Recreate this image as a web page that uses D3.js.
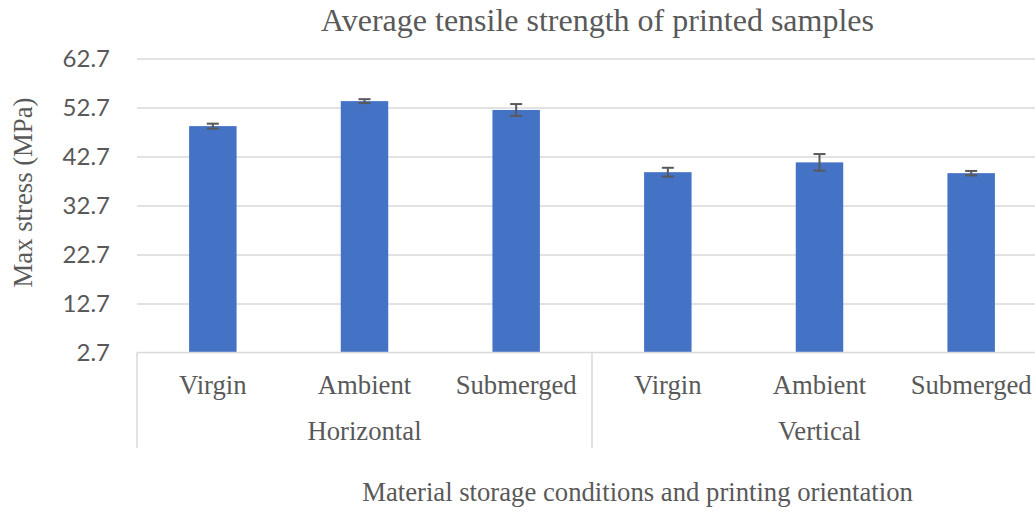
<!DOCTYPE html>
<html>
<head>
<meta charset="utf-8">
<script src="https://cdn.jsdelivr.net/npm/d3@7"></script>
<style>
  html, body { margin: 0; padding: 0; background: #ffffff; }
  svg { display: block; }
</style>
</head>
<body>
<svg id="chart" width="1035" height="512"></svg>
<script>
// Tensile test results: mean max stress and standard deviation per group
const orientations = ["Horizontal", "Vertical"];
const conditions = ["Virgin", "Ambient", "Submerged"];
const meanStress = [48.9, 54.0, 52.2, 39.5, 41.5, 39.3];
const stdStress = [0.5, 0.4, 1.2, 0.9, 1.7, 0.45];
const yTicks = [2.7, 12.7, 22.7, 32.7, 42.7, 52.7, 62.7];
const titleText = "Average tensile strength of printed samples";
const xTitleText = "Material storage conditions and printing orientation";
const yTitleText = "Max stress (MPa)";

// One row per bar: orientation x storage condition
const rows = [];
orientations.forEach((o, i) => {
  conditions.forEach((c, j) => {
    const k = i * conditions.length + j;
    rows.push({ key: o + "|" + c, orientation: o, condition: c,
                mean: meanStress[k], sd: stdStress[k] });
  });
});

const svg = d3.select("#chart");
const plot = { left: 137, right: 1047, top: 58.5, bottom: 352.5 };
const serif = "'Liberation Serif', 'Times New Roman', serif";
const sans = "Lato, 'Open Sans', sans-serif";
const gridColor = "#d9d9d9";
const textColor = "#595959";

const x = d3.scaleBand()
  .domain(rows.map(d => d.key))
  .range([plot.left, plot.right])
  .paddingInner(0.687)
  .paddingOuter(0.687 / 2);

const y = d3.scaleLinear()
  .domain([yTicks[0], yTicks[yTicks.length - 1]])
  .range([plot.bottom, plot.top]);

// Horizontal gridlines and value labels
const yAxis = d3.axisLeft(y)
  .tickValues(yTicks)
  .tickFormat(d3.format(".1f"))
  .tickSize(-(plot.right - plot.left))
  .tickPadding(27);

const gy = svg.append("g")
  .attr("transform", `translate(${plot.left},0)`)
  .call(yAxis);
gy.select(".domain").remove();
gy.selectAll(".tick line")
  .attr("stroke", gridColor)
  .attr("stroke-width", 1.3)
  .filter(d => d === yTicks[0]).remove();
gy.selectAll(".tick text")
  .attr("fill", textColor)
  .style("font-family", sans)
  .style("font-size", "24px");

// Bars
svg.append("g").selectAll("rect")
  .data(rows)
  .join("rect")
  .attr("x", d => x(d.key))
  .attr("width", x.bandwidth())
  .attr("y", d => y(d.mean))
  .attr("height", d => y(yTicks[0]) - y(d.mean))
  .attr("fill", "#4472c4");

// Error bars (mean ± one standard deviation)
const capHalf = 6;
const err = svg.append("g")
  .attr("stroke", "#595959")
  .attr("stroke-width", 2)
  .selectAll("g")
  .data(rows)
  .join("g")
  .attr("transform", d => `translate(${x(d.key) + x.bandwidth() / 2},0)`);
err.append("line")
  .attr("y1", d => y(d.mean - d.sd))
  .attr("y2", d => y(d.mean + d.sd));
err.append("line")
  .attr("x1", -capHalf).attr("x2", capHalf)
  .attr("y1", d => y(d.mean + d.sd)).attr("y2", d => y(d.mean + d.sd));
err.append("line")
  .attr("x1", -capHalf).attr("x2", capHalf)
  .attr("y1", d => y(d.mean - d.sd)).attr("y2", d => y(d.mean - d.sd));

// Category axis: baseline, condition labels, orientation groups and dividers
const axisG = svg.append("g");
axisG.append("line")
  .attr("x1", plot.left).attr("x2", plot.right)
  .attr("y1", y(yTicks[0])).attr("y2", y(yTicks[0]))
  .attr("stroke", gridColor).attr("stroke-width", 1.5);

const groupSpan = conditions.length * x.step();
const groupEdges = d3.range(orientations.length + 1)
  .map(i => plot.left + i * groupSpan);
axisG.selectAll("line.divider")
  .data(groupEdges)
  .join("line")
  .attr("class", "divider")
  .attr("x1", d => d).attr("x2", d => d)
  .attr("y1", y(yTicks[0])).attr("y2", 448)
  .attr("stroke", gridColor).attr("stroke-width", 1.5);

axisG.selectAll("text.cond")
  .data(rows)
  .join("text")
  .attr("class", "cond")
  .attr("x", d => x(d.key) + x.bandwidth() / 2)
  .attr("y", 394)
  .attr("text-anchor", "middle")
  .attr("fill", textColor)
  .style("font-family", serif)
  .style("font-size", "26.7px")
  .text(d => d.condition);

axisG.selectAll("text.group")
  .data(orientations)
  .join("text")
  .attr("class", "group")
  .attr("x", (d, i) => plot.left + (i + 0.5) * groupSpan)
  .attr("y", 440)
  .attr("text-anchor", "middle")
  .attr("fill", textColor)
  .style("font-family", serif)
  .style("font-size", "26.7px")
  .text(d => d);

// Titles
svg.append("text")
  .attr("x", 597.5).attr("y", 31)
  .attr("text-anchor", "middle")
  .attr("fill", textColor)
  .style("font-family", serif)
  .style("font-size", "32px")
  .text(titleText);

svg.append("text")
  .attr("x", 637.5).attr("y", 501)
  .attr("text-anchor", "middle")
  .attr("fill", textColor)
  .style("font-family", serif)
  .style("font-size", "26.7px")
  .text(xTitleText);

svg.append("text")
  .attr("transform", "translate(32,192.5) rotate(-90)")
  .attr("text-anchor", "middle")
  .attr("fill", textColor)
  .style("font-family", serif)
  .style("font-size", "26.7px")
  .text(yTitleText);
</script>
</body>
</html>
